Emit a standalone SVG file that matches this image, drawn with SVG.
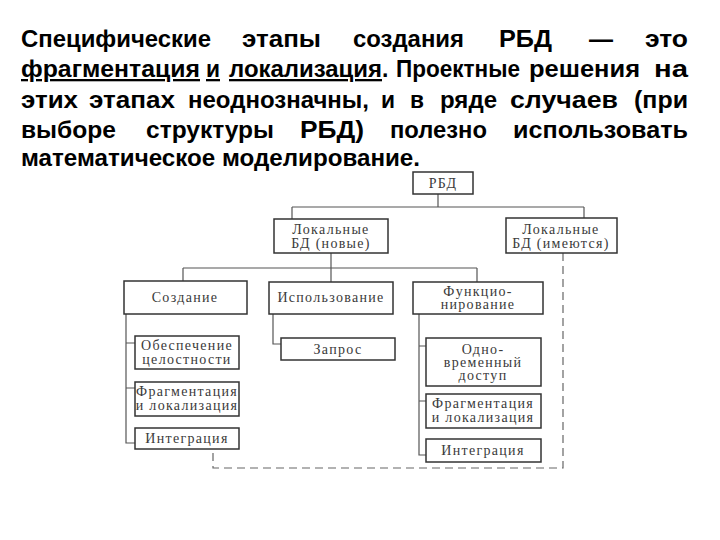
<svg xmlns="http://www.w3.org/2000/svg" width="720" height="540" viewBox="0 0 720 540">
<style>
.p{font-family:"Liberation Sans",Arial,sans-serif;font-weight:bold;font-size:23px;fill:#000}
.u{text-decoration:underline}
.box{fill:#fff;stroke:#333;stroke-width:1.5}
.t{font-family:"Liberation Serif","Times New Roman",serif;font-size:14px;fill:#3a3a3a;text-anchor:middle;letter-spacing:1.3px}
.ln{fill:none;stroke:#555;stroke-width:1.2}
.ds{fill:none;stroke:#666;stroke-width:1.2;stroke-dasharray:8 5}
</style>
<rect width="720" height="540" fill="#fff"/>
<g id="paragraph">
<text class="p" x="21" y="47" textLength="190" lengthAdjust="spacingAndGlyphs">Специфические</text>
<text class="p" x="242" y="47" textLength="79" lengthAdjust="spacingAndGlyphs">этапы</text>
<text class="p" x="353" y="47" textLength="111" lengthAdjust="spacingAndGlyphs">создания</text>
<text class="p" x="499" y="47" textLength="53" lengthAdjust="spacingAndGlyphs">РБД</text>
<text class="p" x="589" y="47" textLength="24" lengthAdjust="spacingAndGlyphs">—</text>
<text class="p" x="645" y="47" textLength="43" lengthAdjust="spacingAndGlyphs">это</text>
<text class="p u" x="21" y="77" textLength="179" lengthAdjust="spacingAndGlyphs">фрагментация</text>
<text class="p u" x="206" y="77" textLength="14" lengthAdjust="spacingAndGlyphs">и</text>
<text class="p u" x="229" y="77" textLength="153" lengthAdjust="spacingAndGlyphs">локализация</text>
<text class="p" x="382" y="77">.</text>
<text class="p" x="396" y="77" textLength="124" lengthAdjust="spacingAndGlyphs">Проектные</text>
<text class="p" x="529" y="77" textLength="111" lengthAdjust="spacingAndGlyphs">решения</text>
<text class="p" x="654" y="77" textLength="34" lengthAdjust="spacingAndGlyphs">на</text>
<text class="p" x="21" y="108" textLength="57" lengthAdjust="spacingAndGlyphs">этих</text>
<text class="p" x="89" y="108" textLength="86" lengthAdjust="spacingAndGlyphs">этапах</text>
<text class="p" x="188" y="108" textLength="181" lengthAdjust="spacingAndGlyphs">неоднозначны,</text>
<text class="p" x="381" y="108" textLength="14" lengthAdjust="spacingAndGlyphs">и</text>
<text class="p" x="410" y="108" textLength="14" lengthAdjust="spacingAndGlyphs">в</text>
<text class="p" x="440" y="108" textLength="57" lengthAdjust="spacingAndGlyphs">ряде</text>
<text class="p" x="510" y="108" textLength="108" lengthAdjust="spacingAndGlyphs">случаев</text>
<text class="p" x="634" y="108" textLength="54" lengthAdjust="spacingAndGlyphs">(при</text>
<text class="p" x="21" y="138" textLength="95" lengthAdjust="spacingAndGlyphs">выборе</text>
<text class="p" x="146" y="138" textLength="128" lengthAdjust="spacingAndGlyphs">структуры</text>
<text class="p" x="300" y="138" textLength="64" lengthAdjust="spacingAndGlyphs">РБД)</text>
<text class="p" x="390" y="138" textLength="97" lengthAdjust="spacingAndGlyphs">полезно</text>
<text class="p" x="513" y="138" textLength="175" lengthAdjust="spacingAndGlyphs">использовать</text>
<text class="p" x="21" y="166" textLength="399" lengthAdjust="spacingAndGlyphs">математическое моделирование.</text>
</g>
<g id="connectors">
<path class="ln" d="M438 194V207M292 207H584M292 207V219M584 207V218"/>
<path class="ln" d="M331 253V268M183 268H477M183 268V281M331 268V282M477 268V282"/>
<path class="ln" d="M126 314V443H135M126 343H135M126 388H135"/>
<path class="ln" d="M273 314V344H281"/>
<path class="ln" d="M419 314V455H426M419 346H426M419 401H426"/>
<path class="ds" d="M563 253V468H213V449"/>
</g>
<g id="n-rbd"><rect class="box" x="413" y="172" width="60" height="22"/><text class="t" x="443" y="188">РБД</text></g>
<g id="n-local-new"><rect class="box" x="274" y="219" width="114" height="34"/><text class="t" x="331" y="234">Локальные</text><text class="t" x="331" y="248">БД (новые)</text></g>
<g id="n-local-exist"><rect class="box" x="506" y="218" width="111" height="35"/><text class="t" x="561" y="234">Локальные</text><text class="t" x="561" y="248">БД (имеются)</text></g>
<g id="n-create"><rect class="box" x="124" y="281" width="123" height="33"/><text class="t" x="185" y="302">Создание</text></g>
<g id="n-use"><rect class="box" x="269" y="282" width="124" height="32"/><text class="t" x="331" y="302">Использование</text></g>
<g id="n-func"><rect class="box" x="413" y="282" width="130" height="32"/><text class="t" x="478" y="296">Функцио-</text><text class="t" x="478" y="309">нирование</text></g>
<g id="n-integrity"><rect class="box" x="135" y="336" width="104" height="33"/><text class="t" x="187" y="350">Обеспечение</text><text class="t" x="187" y="364">целостности</text></g>
<g id="n-frag1"><rect class="box" x="135" y="382" width="104" height="34"/><text class="t" x="187" y="396">Фрагментация</text><text class="t" x="187" y="410">и локализация</text></g>
<g id="n-integ1"><rect class="box" x="135" y="428" width="104" height="21"/><text class="t" x="187" y="443">Интеграция</text></g>
<g id="n-query"><rect class="box" x="281" y="338" width="114" height="22"/><text class="t" x="338" y="354">Запрос</text></g>
<g id="n-concurrent"><rect class="box" x="426" y="338" width="115" height="48"/><text class="t" x="483" y="354">Одно-</text><text class="t" x="483" y="367">временный</text><text class="t" x="483" y="380">доступ</text></g>
<g id="n-frag2"><rect class="box" x="426" y="394" width="115" height="34"/><text class="t" x="483" y="408">Фрагментация</text><text class="t" x="483" y="422">и локализация</text></g>
<g id="n-integ2"><rect class="box" x="426" y="439" width="115" height="23"/><text class="t" x="483" y="455">Интеграция</text></g>
</svg>
